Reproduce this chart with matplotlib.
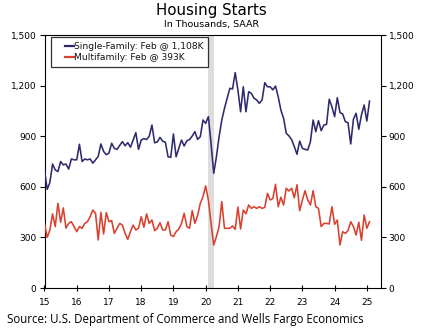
import matplotlib
matplotlib.use("Agg")
import matplotlib.pyplot as plt
from matplotlib.legend_handler import HandlerLine2D
import numpy as np

# Monthly data, Jan 2015 - Feb 2025 (thousands, SAAR)
start_year = 2015
single_family = [
    700, 585, 625, 735, 700, 690, 750, 730, 735, 705, 765, 760,   # 2015
    760, 852, 750, 765, 760, 765, 740, 760, 780, 854, 810, 790,   # 2016
    800, 858, 828, 822, 845, 868, 843, 862, 835, 877, 921, 822,   # 2017
    877, 886, 880, 901, 966, 861, 866, 893, 870, 864, 778, 775,   # 2018
    913, 778, 828, 877, 842, 873, 880, 901, 927, 881, 897, 996,   # 2019
    976, 1016, 858, 680, 778, 897, 996, 1065, 1125, 1184, 1180, 1277,  # 2020
    1174, 1045, 1193, 1045, 1164, 1154, 1125, 1115, 1095, 1115, 1217, 1193,  # 2021
    1193, 1175, 1197, 1134, 1055, 1006, 917, 902, 880, 838, 793, 871,  # 2022
    828, 822, 818, 868, 996, 927, 992, 933, 966, 970, 1119, 1075,  # 2023
    1016, 1128, 1040, 1032, 986, 980, 854, 1000, 1036, 941, 1026, 1085,  # 2024
    990, 1108,  # 2025
]
multifamily = [
    383, 300, 344, 439, 364, 502, 390, 475, 355, 383, 393, 364,   # 2015
    334, 364, 354, 383, 393, 423, 462, 443, 285, 449, 320, 447,   # 2016
    393, 400, 324, 354, 383, 373, 324, 289, 334, 373, 344, 354,   # 2017
    423, 360, 439, 383, 403, 340, 354, 387, 344, 344, 393, 314,   # 2018
    305, 334, 350, 383, 443, 364, 354, 459, 383, 430, 502, 541,   # 2019
    605, 522, 383, 255, 305, 364, 512, 354, 354, 354, 368, 348,   # 2020
    480, 350, 462, 440, 492, 472, 482, 472, 482, 472, 478, 561,   # 2021
    522, 530, 615, 482, 538, 492, 591, 575, 591, 535, 612, 458,   # 2022
    520, 577, 522, 492, 577, 482, 472, 364, 383, 383, 380, 482,   # 2023
    378, 403, 255, 334, 324, 340, 393, 364, 314, 390, 283, 433,   # 2024
    354, 393,  # 2025
]
series_labels = ["Single-Family: Feb @ 1,108K", "Multifamily: Feb @ 393K"]
series_colors = ["#2E2A6E", "#D9412E"]
recession = (2020 + 1/12, 2020 + 3/12)
x_ticks = list(range(2015, 2026))
x_ticklabels = [f"{y % 100:02d}" for y in x_ticks]
y_ticks = [0, 300, 600, 900, 1200, 1500]
y_ticklabels = [f"{v:,}" for v in y_ticks]

x = start_year + np.arange(len(single_family)) / 12.0

W, H = 422, 331
fig = plt.figure(figsize=(W / 100, H / 100), dpi=100)
ax = fig.add_axes([44.5 / W, 1 - 288 / H, (380.7 - 44.5) / W, (288 - 35) / H])

ax.axvspan(recession[0], recession[1], color="#DDDDDD", lw=0, zorder=0)
l1, = ax.plot(x, single_family, color=series_colors[0], lw=1.15, zorder=3)
l2, = ax.plot(x, multifamily, color=series_colors[1], lw=1.15, zorder=3)

ax.set_xlim(2015, 2025.43)
ax.set_ylim(0, 1500)
ax.set_xticks(x_ticks)
ax.set_xticklabels(x_ticklabels)
ax.set_yticks(y_ticks)
ax.set_yticklabels(y_ticklabels)

for s in ax.spines.values():
    s.set_linewidth(0.8)
    s.set_color("black")

ax.tick_params(axis="x", direction="inout", length=4, width=0.8, pad=5.5,
               labelsize=6.5, colors="black")
ax.tick_params(axis="y", direction="out", length=3.5, width=0.8, pad=2.2,
               labelsize=6.5, colors="black", right=True, labelright=True)

leg = ax.legend([l1, l2], series_labels,
                loc="upper left",
                bbox_to_anchor=(51.3 / W, 1 - 37.3 / H),
                bbox_transform=fig.transFigure,
                borderaxespad=0, borderpad=0.5,
                handlelength=1.95, handletextpad=0.0,
                labelspacing=0.25, fontsize=6.6,
                frameon=True, fancybox=False,
                handler_map={matplotlib.lines.Line2D: HandlerLine2D(xpad=1.0)})
leg.get_frame().set_edgecolor("black")
leg.get_frame().set_linewidth(0.9)
for t in leg.get_texts():
    t.set_color("#111111")
for h in leg.legend_handles:
    h.set_linewidth(1.6)

fig.text(211.5 / W, 1 - 11 / H, "Housing Starts", ha="center", va="center",
         fontsize=10.8, color="black")
fig.text(211.5 / W, 1 - 24.3 / H, "In Thousands, SAAR", ha="center", va="center",
         fontsize=6.8, color="black")
fig.text(6.7 / W, 1 - 319 / H,
         "Source: U.S. Department of Commerce and Wells Fargo Economics",
         ha="left", va="center", fontsize=8.3, family="Open Sans", color="black")

fig.savefig("out.png", dpi=100)
